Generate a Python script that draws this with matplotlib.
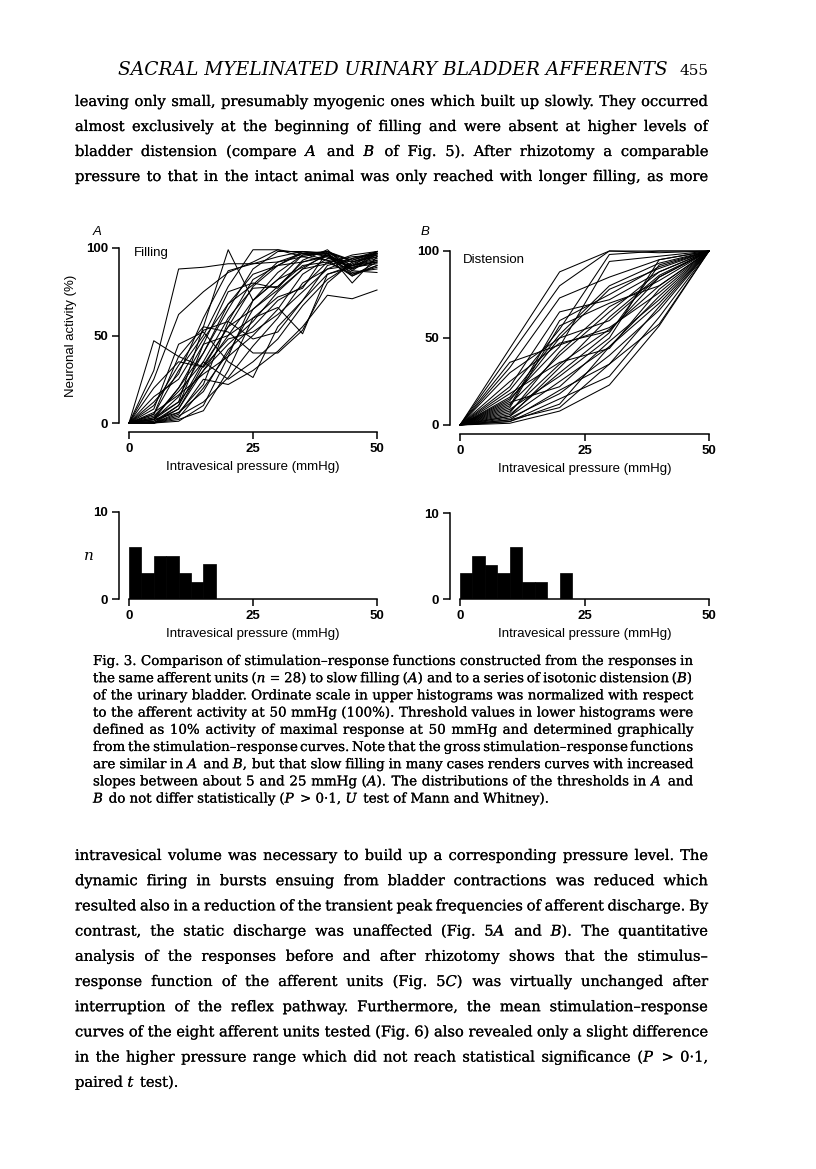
"""Fig. 3 page: stimulation-response curves and threshold histograms."""
import matplotlib
matplotlib.use("Agg")
import matplotlib.pyplot as plt
import matplotlib.patheffects as pe

W, H = 816, 1169
SERIF = "DejaVu Serif"
SANS = "Liberation Sans"
INK = [pe.withStroke(linewidth=0.12, foreground="black")]

plt.rcParams["mathtext.fontset"] = "custom"
plt.rcParams["mathtext.rm"] = SERIF
plt.rcParams["mathtext.it"] = SERIF + ":italic"

# Filling (A): pressures every 5 mmHg, activity in %
fill_x = [0, 5, 10, 15, 20, 25, 30, 35, 40, 45, 50]
fill_curves = [
    [0, 30, 88, 89, 91, 91, 92, 95, 93, 90, 95],
    [0, 47, 38, 32, 55, 78, 90, 97, 98, 88, 98],
    [0, 25, 62, 75, 86, 92, 99, 97, 96, 84, 92],
    [0, 2, 12, 55, 99, 70, 82, 96, 98, 90, 93],
    [0, 5, 30, 50, 78, 99, 99, 95, 98, 92, 96],
    [0, 0, 10, 35, 60, 77, 78, 90, 92, 85, 90],
    [0, 3, 20, 45, 50, 60, 66, 51, 85, 90, 98],
    [0, 0, 5, 25, 22, 30, 41, 55, 73, 71, 76],
    [0, 1, 8, 30, 45, 58, 75, 88, 97, 87, 86],
    [0, 10, 33, 53, 58, 48, 52, 70, 90, 94, 97],
    [0, 2, 15, 40, 68, 85, 90, 98, 97, 80, 95],
    [0, 0, 3, 20, 40, 65, 78, 92, 96, 88, 93],
    [0, 5, 38, 55, 52, 40, 40, 53, 80, 92, 97],
    [0, 8, 45, 52, 35, 26, 55, 70, 85, 89, 91],
    [0, 0, 1, 10, 38, 70, 86, 96, 97, 93, 98],
    [0, 15, 25, 48, 68, 79, 92, 97, 93, 84, 90],
    [0, 3, 12, 30, 50, 70, 82, 89, 96, 90, 94],
    [0, 0, 6, 18, 42, 55, 70, 78, 92, 95, 96],
    [0, 2, 20, 40, 65, 88, 98, 98, 95, 86, 88],
    [0, 20, 35, 32, 48, 52, 62, 75, 88, 90, 92],
    [0, 0, 2, 7, 30, 60, 72, 77, 98, 93, 97],
    [0, 6, 16, 28, 38, 50, 65, 85, 94, 92, 95],
    [0, 1, 10, 45, 75, 80, 77, 93, 99, 87, 97],
    [0, 0, 4, 12, 26, 44, 60, 80, 88, 94, 98],
    [0, 12, 28, 60, 87, 91, 95, 98, 97, 85, 89],
    [0, 4, 18, 35, 25, 35, 48, 67, 82, 91, 96],
    [0, 2, 6, 22, 58, 82, 90, 92, 95, 89, 92],
    [0, 0, 8, 33, 55, 65, 76, 88, 91, 96, 98],
]

# Distension (B): pressures every 10 mmHg
dist_x = [0, 10, 20, 30, 40, 50]
dist_curves = [
    [0, 44, 88, 100, 100, 100],
    [0, 40, 80, 100, 99, 100],
    [0, 33, 73, 85, 95, 100],
    [0, 30, 50, 60, 85, 100],
    [0, 20, 55, 98, 100, 100],
    [0, 15, 45, 94, 97, 100],
    [0, 10, 57, 70, 80, 100],
    [0, 12, 40, 65, 88, 100],
    [0, 8, 35, 55, 80, 100],
    [0, 5, 25, 45, 70, 100],
    [0, 3, 20, 35, 58, 100],
    [0, 1, 8, 23, 57, 100],
    [0, 2, 12, 45, 74, 100],
    [0, 6, 30, 53, 92, 100],
    [0, 14, 50, 78, 90, 100],
    [0, 18, 36, 44, 78, 100],
    [0, 9, 28, 50, 95, 100],
    [0, 4, 18, 40, 66, 100],
    [0, 25, 47, 54, 85, 100],
    [0, 11, 60, 75, 91, 100],
    [0, 7, 42, 68, 83, 100],
    [0, 2, 15, 28, 62, 100],
    [0, 16, 52, 80, 93, 100],
    [0, 36, 46, 56, 76, 100],
    [0, 5, 33, 62, 86, 100],
    [0, 13, 22, 48, 72, 100],
    [0, 3, 10, 35, 68, 100],
    [0, 22, 65, 72, 88, 100],
]

# Threshold histograms, 2.5 mmHg bins starting at 0
bin_left = [0, 2.5, 5, 7.5, 10, 12.5, 15, 17.5, 20]
fill_counts = [6, 3, 5, 5, 3, 2, 4, 0, 0]
dist_counts = [3, 5, 4, 3, 6, 2, 2, 0, 3]

header = "SACRAL MYELINATED URINARY BLADDER AFFERENTS"
page_no = "455"

para1 = [
    "leaving only small, presumably myogenic ones which built up slowly. They occurred",
    "almost exclusively at the beginning of filling and were absent at higher levels of",
    "bladder distension (compare $A$ and $B$ of Fig. 5). After rhizotomy a comparable",
    "pressure to that in the intact animal was only reached with longer filling, as more",
]
caption = [
    "Fig. 3. Comparison of stimulation\u2013response functions constructed from the responses in",
    "the same afferent units ($n$ = 28) to slow filling ($A$) and to a series of isotonic distension ($B$)",
    "of the urinary bladder. Ordinate scale in upper histograms was normalized with respect",
    "to the afferent activity at 50 mmHg (100%). Threshold values in lower histograms were",
    "defined as 10% activity of maximal response at 50 mmHg and determined graphically",
    "from the stimulation\u2013response curves. Note that the gross stimulation\u2013response functions",
    "are similar in $A$ and $B$, but that slow filling in many cases renders curves with increased",
    "slopes between about 5 and 25 mmHg ($A$). The distributions of the thresholds in $A$ and",
    "$B$ do not differ statistically ($P$ > 0\u00b71, $U$ test of Mann and Whitney).",
]
para2 = [
    "intravesical volume was necessary to build up a corresponding pressure level. The",
    "dynamic firing in bursts ensuing from bladder contractions was reduced which",
    "resulted also in a reduction of the transient peak frequencies of afferent discharge. By",
    "contrast, the static discharge was unaffected (Fig. 5$A$ and $B$). The quantitative",
    "analysis of the responses before and after rhizotomy shows that the stimulus\u2013",
    "response function of the afferent units (Fig. 5$C$) was virtually unchanged after",
    "interruption of the reflex pathway. Furthermore, the mean stimulation\u2013response",
    "curves of the eight afferent units tested (Fig. 6) also revealed only a slight difference",
    "in the higher pressure range which did not reach statistical significance ($P$ > 0\u00b71,",
    "paired $t$ test).",
]

fig = plt.figure(figsize=(W / 100, H / 100), dpi=100)
renderer = fig.canvas.get_renderer()


def fy(y):
    return 1 - y / H


def word_widths(line, size):
    out = []
    for w in line.split(" "):
        t = fig.text(0, 0, w, fontsize=size, family=SERIF)
        out.append(t.get_window_extent(renderer).width)
        t.remove()
    return out


def fit_size(lines, width, min_gap=2.5, ref=10.0):
    """Largest size at which every line fits with at least min_gap between words."""
    best = 100.0
    for line in lines:
        ws = word_widths(line, ref)
        room = width - min_gap * (len(ws) - 1)
        best = min(best, ref * room / sum(ws))
    return best


def put_line(text, y, left, right, size, justify=True):
    """Place one line of words, spreading the gaps to fill left..right."""
    words = text.split(" ")
    objs = [fig.text(0, fy(y), w, fontsize=size, family=SERIF, va="baseline",
                     path_effects=INK)
            for w in words]
    widths = [o.get_window_extent(renderer).width for o in objs]
    if justify and len(words) > 1:
        gap = (right - left - sum(widths)) / (len(words) - 1)
    else:
        gap = size * 0.318 * 100 / 72
    x = left
    for o, w in zip(objs, widths):
        o.set_x(x / W)
        x += w + gap


def put_block(lines, y0, step, left, right, size, last_ragged=True):
    for i, line in enumerate(lines):
        last = last_ragged and i == len(lines) - 1
        put_line(line, y0 + i * step, left, right, size, justify=not last)


# running header
hd = fig.text(668 / W, fy(75), header, fontsize=12, family=SERIF,
              style="italic", ha="right", va="baseline")
wd = hd.get_window_extent(renderer).width
hd.set_fontsize(12 * (668 - 118) / wd)
fig.text(708 / W, fy(75), page_no, fontsize=11, family=SERIF,
         ha="right", va="baseline")

body_size = fit_size(para1 + para2[:-1], 708 - 75, min_gap=3.5)
cap_size = fit_size(caption[:-1], 693 - 93, min_gap=2.5)
put_block(para1, 106, 25, 75, 708, body_size, last_ragged=False)
put_block(caption, 665, 17.2, 93, 693, cap_size)
put_block(para2, 860, 25.2, 75, 708, body_size)


def style_axes(ax, xoff, yoff, ytop, yticks):
    for s in ("top", "right"):
        ax.spines[s].set_visible(False)
    ax.spines["left"].set_position(("outward", xoff))
    ax.spines["bottom"].set_position(("outward", yoff))
    ax.spines["left"].set_bounds(0, ytop)
    ax.spines["bottom"].set_bounds(0, 50)
    for s in ("left", "bottom"):
        ax.spines[s].set_linewidth(1.1)
    ax.set_xlim(0, 50)
    ax.set_ylim(0, ytop)
    ax.set_xticks([0, 25, 50])
    ax.set_yticks(yticks)
    ax.tick_params(length=5, width=1.1, pad=3)
    for lab in ax.get_xticklabels() + ax.get_yticklabels():
        lab.set_family(SANS)
        lab.set_fontsize(9.5)
        lab.set_fontweight("bold")
    ax.set_facecolor("none")
    ax.set_xlabel("Intravesical pressure (mmHg)", family=SANS, fontsize=9.5,
                  labelpad=4)


def axes_px(x0, x1, y0, y1):
    """Axes whose data box spans x0..x1 and y-bottom y0 .. y-top y1 (pixels)."""
    return fig.add_axes([x0 / W, fy(y0), (x1 - x0) / W, (y0 - y1) / H])


# upper panels
ax_a = axes_px(129, 377, 423, 248)
for c in fill_curves:
    ax_a.plot(fill_x, c, color="black", lw=0.75, clip_on=False)
style_axes(ax_a, 7.2, 6.5, 100, [0, 50, 100])
ax_a.set_ylabel("Neuronal activity (%)", family=SANS, fontsize=9.5, labelpad=6)
ax_a.text(0.02, 0.97, "Filling", transform=ax_a.transAxes, family=SANS,
          fontsize=9.5, va="center", ha="left")

ax_b = axes_px(460, 709, 425, 251)
for c in dist_curves:
    ax_b.plot(dist_x, c, color="black", lw=0.75, clip_on=False)
style_axes(ax_b, 7.2, 6.5, 100, [0, 50, 100])
ax_b.text(0.01, 0.95, "Distension", transform=ax_b.transAxes, family=SANS,
          fontsize=9.5, va="center", ha="left")

# lower histograms
hx_a = axes_px(129, 377, 599, 512)
hx_a.bar(bin_left, fill_counts, width=2.5, align="edge", color="black",
         edgecolor="black", linewidth=0.5)
style_axes(hx_a, 7.2, 0, 10, [0, 10])
hx_a.text(-0.165, 0.5, "$n$", transform=hx_a.transAxes, fontsize=11,
          va="center", ha="center")

hx_b = axes_px(460, 709, 599, 513)
hx_b.bar(bin_left, dist_counts, width=2.5, align="edge", color="black",
         edgecolor="black", linewidth=0.5)
style_axes(hx_b, 7.2, 0, 10, [0, 10])

# panel letters
fig.text(93 / W, fy(232), "A", family=SANS, style="italic", fontsize=9.5,
         va="center")
fig.text(421 / W, fy(232), "B", family=SANS, style="italic", fontsize=9.5,
         va="center")

fig.savefig("out.png", dpi=100)
